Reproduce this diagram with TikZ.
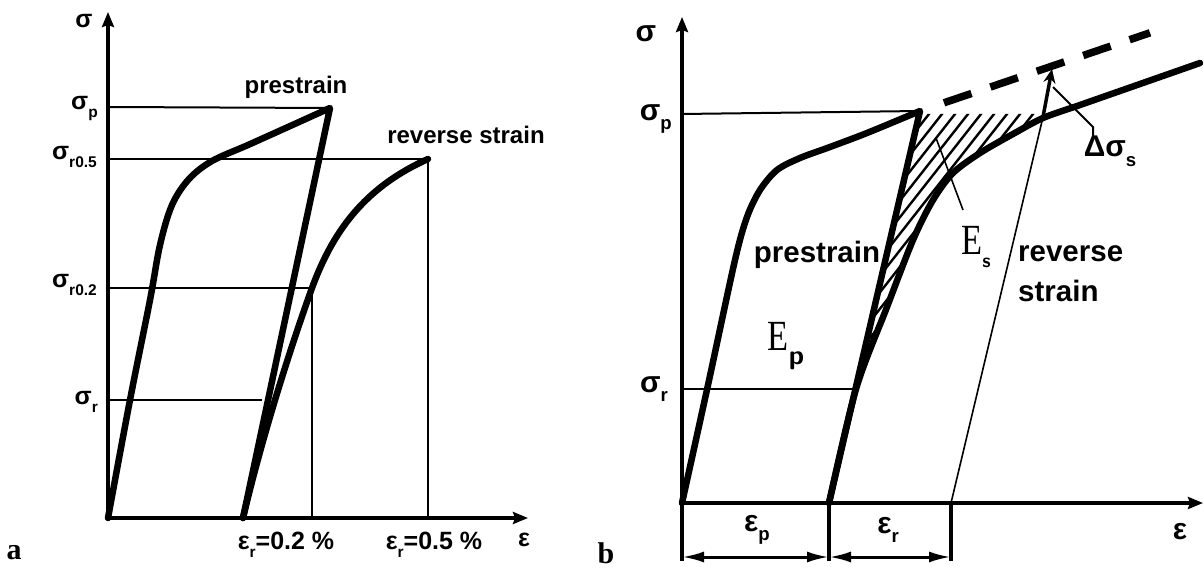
\documentclass[tikz,border=0pt]{standalone}
\usepackage{fontspec}
\setmainfont{Liberation Sans}
\newfontfamily\seriffont{Liberation Serif}
\usetikzlibrary{arrows.meta}
\newcommand\mysub[1]{\raisebox{-0.32em}{\scalebox{0.62}{#1}}}
\begin{document}
\begin{tikzpicture}[x=1pt,y=-1pt,
  curve/.style={line width=6.5pt, line cap=round, line join=round},
  axisline/.style={line width=3.2pt},
  axisarrow/.style={axisline, -{Stealth[length=15pt,width=12pt,inset=2pt]}},
  level/.style={line width=2pt},
  thinline/.style={line width=1.6pt},
  labl/.style={font=\fontsize{25}{28}\selectfont\bfseries, inner sep=0pt},
  labr/.style={font=\fontsize{30}{33}\selectfont\bfseries, inner sep=0pt},
  txtl/.style={font=\fontsize{24}{28}\selectfont\bfseries, inner sep=0pt},
  txtr/.style={font=\fontsize{29.5}{36}\selectfont\bfseries, inner sep=0pt},
  bigE/.style={font=\seriffont\fontsize{43}{44}\selectfont, inner sep=0pt},
  panel/.style={font=\seriffont\bfseries\fontsize{30}{30}\selectfont, inner sep=0pt},
  dimarrow/.style={line width=3pt, {Latex[length=22pt,width=11pt]}-{Latex[length=22pt,width=11pt]}}
]
\useasboundingbox (0,0) rectangle (1204,569);

% ================= panel a =================
\coordinate (aO) at (108,518);
\coordinate (aP) at (330,108);
\coordinate (aU) at (243,518);
\coordinate (aR) at (428,159);

% level lines
\draw[level] (108,107) -- (aP);
\draw[level] (108,159) -- (aR) -- (428,518);
\draw[level] (108,288) -- (312,288) -- (312,518);
\draw[level] (108,400) -- (262,400);

% axes
\draw[axisarrow] (aO) -- (108,12);
\draw[axisarrow] (106,518) -- (528,518);

% curves
\draw[curve] plot[smooth,tension=0.55] coordinates {(108,518) (130,400) (150,300) (160,245) (172,205) (189,179) (212,161) (248,145) (288,127) (330,108)} -- (aU);
\draw[curve] (aU) .. controls (265,425) and (295,335) .. (312,288)
                  .. controls (335,225) and (370,185) .. (aR);

% labels
\node[labl] at (84,21) {σ};
\node[labl,anchor=east] at (98,109) {σ\mysub{p}};
\node[labl,anchor=east] at (97,157) {σ\mysub{r0.5}};
\node[labl,anchor=east] at (97,285) {σ\mysub{r0.2}};
\node[labl,anchor=east] at (98,402) {σ\mysub{r}};
\node[txtl] at (296,87) {prestrain};
\node[txtl] at (466,135) {reverse strain};
\node[labl] at (286,545) {ε\mysub{r}=0.2 \%};
\node[labl] at (434,545) {ε\mysub{r}=0.5 \%};
\node[labl] at (524,540) {ε};
\node[panel] at (14,553) {a};

% ================= panel b =================
\coordinate (bO) at (682,503);
\coordinate (bP) at (920,111);
\coordinate (bU) at (829,503);
\coordinate (bE) at (951,503);

% hatching
\begin{scope}
\clip plot[smooth,tension=0.5] coordinates {(829,503) (856,389) (887,307) (913,240) (933,200) (953,173) (980,153) (1013,134) (1043,118)} -- (1043,114) -- (920,114) -- cycle;
\foreach \c in {480,493,...,1100} \draw[line width=2.4pt] (\c,520) -- ({\c+330},100);
\end{scope}

% level lines
\draw[level] (682,114) -- (bP);
\draw[level] (682,389) -- (853,389);

% axes
\draw[axisarrow] (bO) -- (682,17);
\draw[axisarrow] (680,503) -- (1203,503);

% dimension lines
\draw[axisline] (bO) -- (682,561);
\draw[axisline] (bU) -- (829,561);
\draw[axisline] (bE) -- (951,561);
\draw[dimarrow] (682,557) -- (829,557);
\draw[dimarrow] (829,557) -- (951,557);

% thin reload line and leaders
\draw[thinline] (bE) -- (1043,117);
\draw[thinline] (936,138) -- (963,210);
\draw[level] (1053,87) -- (1093,127) -- (1093,138);

% dashed continuation
\draw[line width=7.5pt, dash pattern=on 29pt off 20pt] (944,102.8) -- (1150,32.8);

% curves
\draw[curve] plot[smooth,tension=0.5] coordinates {(682,503) (708,385) (735,260) (747,217) (760,190) (777,170) (800,158) (830,147) (867,133) (920,111)} -- (bU);
\draw[curve] plot[smooth,tension=0.5] coordinates {(829,503) (856,389) (887,307) (913,240) (933,200) (953,173) (980,153) (1013,134) (1043,118) (1080,105) (1120,91) (1200,63)};

% delta sigma arrow
\draw[line width=3.5pt, -{Stealth[length=14pt,width=12pt]}] (1043,117) -- (1052,69);

% labels
\node[labr] at (646,34) {σ};
\node[labr,anchor=east] at (672,119) {σ\mysub{p}};
\node[labr,anchor=east] at (668,389) {σ\mysub{r}};
\node[txtr] at (817,255) {prestrain};
\node[txtr,anchor=west] at (1018,254) {reverse};
\node[txtr,anchor=west] at (1018,291) {strain};
\node[bigE] at (976,247) {\scalebox{0.8}[1]{E}\mysub{\sffamily\bfseries\fontsize{32}{32}\selectfont s}};
\node[bigE] at (786,346) {\scalebox{0.8}[1]{E}\mysub{\sffamily\bfseries\fontsize{44}{44}\selectfont p}};
\node[labr] at (1110,151) {Δσ\mysub{s}};
\node[labr] at (757,530) {ε\mysub{p}};
\node[labr] at (888,530) {ε\mysub{r}};
\node[labr] at (1180,532) {ε};
\node[panel] at (606,553) {b};
\end{tikzpicture}
\end{document}
